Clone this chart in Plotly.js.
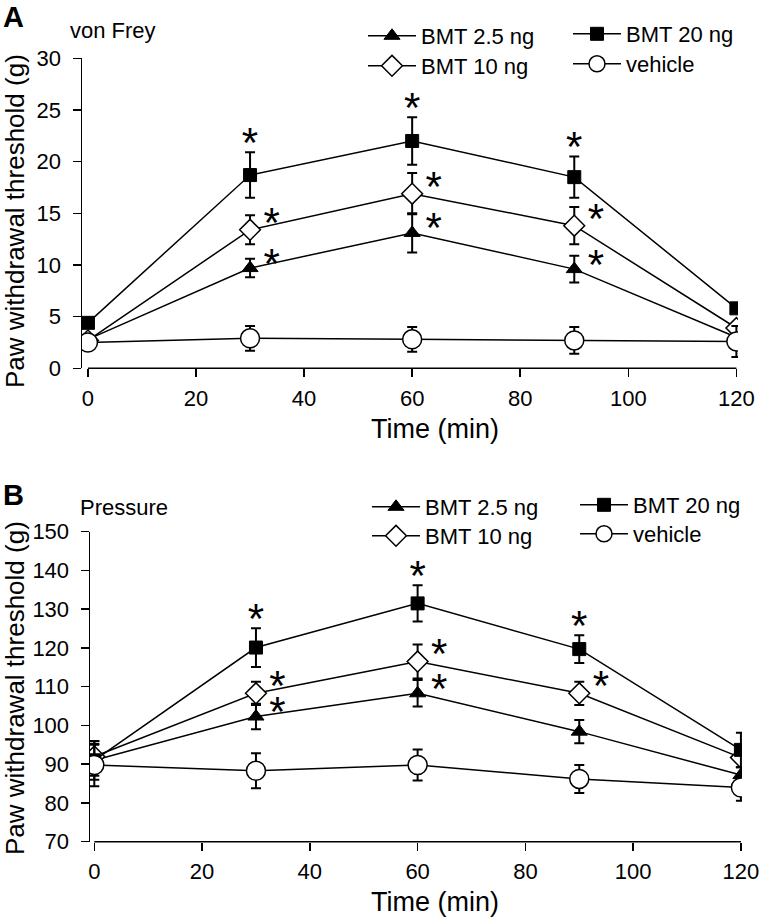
<!DOCTYPE html>
<html>
<head>
<meta charset="utf-8">
<script src="https://cdn.plot.ly/plotly-3.0.1.min.js"></script>
<style>
  body { margin: 0; background: #fff; }
  #chart { width: 760px; height: 920px; }
</style>
</head>
<body>
<div id="chart"></div>
<script>
// time points (min)
const times = [0, 30, 60, 90, 120];

// A: von Frey, paw withdrawal threshold (g), mean and SEM
const vfLow = [2.8, 9.7, 13.1, 9.6, 3.0];
const vfLowErr = [0.3, 0.9, 1.9, 1.3, 0.4];
const vfMid = [2.7, 13.4, 16.9, 13.8, 3.9];
const vfMidErr = [0.3, 1.4, 2.0, 1.8, 0.5];
const vfHigh = [4.4, 18.7, 22.0, 18.5, 5.8];
const vfHighErr = [0.4, 2.2, 2.3, 2.0, 0.4];
const vfVeh = [2.5, 2.9, 2.8, 2.7, 2.6];
const vfVehErr = [0.4, 1.2, 1.2, 1.3, 1.5];

// B: pressure, paw withdrawal threshold (g)
const prLow = [91.0, 102.3, 108.3, 98.4, 87.2];
const prLowErr = [4.0, 3.3, 3.4, 3.0, 2.0];
const prMid = [92.0, 108.3, 116.5, 108.3, 91.7];
const prMidErr = [4.0, 3.0, 4.4, 3.0, 2.5];
const prHigh = [91.0, 120.1, 131.5, 119.7, 93.7];
const prHighErr = [5.0, 5.0, 4.7, 3.6, 4.4];
const prVeh = [89.8, 88.3, 89.8, 86.2, 84.0];
const prVehErr = [5.5, 4.5, 4.0, 3.6, 3.4];

// significance flags (1 = asterisk)
const vfLowSig = [0, 1, 1, 1, 0];
const vfMidSig = [0, 1, 1, 1, 0];
const vfHighSig = [0, 1, 1, 1, 0];
const prLowSig = [0, 1, 1, 0, 0];
const prMidSig = [0, 1, 1, 1, 0];
const prHighSig = [0, 1, 1, 1, 0];

const seriesNames = ['BMT 2.5 ng', 'BMT 10 ng', 'BMT 20 ng', 'vehicle'];
const xTicks = [0, 20, 40, 60, 80, 100, 120];

const FONT = 'Arial, "Liberation Sans", sans-serif';
const W = 760, H = 920;
const px = v => v / W;
const py = v => 1 - v / H;

const markers = [
  {symbol: 'triangle-up', size: 14, color: '#000', line: {color: '#000', width: 1}},
  {symbol: 'diamond', size: 16, color: '#fff', line: {color: '#000', width: 1.5}},
  {symbol: 'square', size: 13, color: '#000', line: {color: '#000', width: 1}},
  {symbol: 'circle', size: 19, color: '#fff', line: {color: '#000', width: 1.5}}
];

function series(xa, ya, ys, errs, legs) {
  return ys.map((y, i) => ({
    x: times, y: y, name: seriesNames[i],
    xaxis: xa, yaxis: ya,
    type: 'scatter', mode: 'lines+markers',
    line: {color: '#000', width: 1.5},
    marker: markers[i],
    error_y: {type: 'data', array: errs[i], visible: true, color: '#000', thickness: 2, width: 5},
    legend: legs[i],
    showlegend: true
  }));
}

// asterisks placed above the error bar or to the right of the marker
function stars(xa, ya, y, err, sig, above, upOff, rightOff) {
  const sx = [], sy = [];
  sig.forEach((s, i) => {
    if (!s) return;
    if (above) { sx.push(times[i]); sy.push(y[i] + err[i] + upOff); }
    else { sx.push(times[i] + 4); sy.push(y[i] + rightOff); }
  });
  return {
    x: sx, y: sy, xaxis: xa, yaxis: ya, type: 'scatter', mode: 'text',
    text: sx.map(() => '*'), textposition: 'middle center',
    textfont: {family: FONT, size: 42, color: '#000'},
    showlegend: false, hoverinfo: 'skip'
  };
}

const data = [
  ...series('x', 'y', [vfLow, vfMid, vfHigh, vfVeh], [vfLowErr, vfMidErr, vfHighErr, vfVehErr],
    ['legend', 'legend2', 'legend3', 'legend4']),
  ...series('x2', 'y2', [prLow, prMid, prHigh, prVeh], [prLowErr, prMidErr, prHighErr, prVehErr],
    ['legend5', 'legend6', 'legend7', 'legend8']),
  stars('x', 'y', vfHigh, vfHighErr, vfHighSig, true, 0.55, 0),
  stars('x', 'y', vfMid, vfMidErr, vfMidSig, false, 0, 0.3),
  stars('x', 'y', vfLow, vfLowErr, vfLowSig, false, 0, 0.1),
  stars('x2', 'y2', prHigh, prHighErr, prHighSig, true, 1.4, 0),
  stars('x2', 'y2', prMid, prMidErr, prMidSig, false, 0, 1.0),
  stars('x2', 'y2', prLow, prLowErr, prLowSig, false, 0, 0.2)
];

const xAxisBase = {
  tickvals: xTicks, ticks: 'outside', ticklen: 8, tickwidth: 1.5, tickcolor: '#000',
  showline: false, showgrid: false, zeroline: false,
  tickfont: {family: FONT, size: 22, color: '#000'}, ticklabelstandoff: 2
};
const yAxisBase = {
  ticks: 'outside', ticklen: 8, tickwidth: 1.5, tickcolor: '#000',
  showline: true, linecolor: '#000', linewidth: 1.5, showgrid: false, zeroline: false,
  tickfont: {family: FONT, size: 22, color: '#000'}, ticklabelstandoff: 7
};

// one legend per entry so each row sits where the reference has it
function legendAt(x, yMid) {
  return {
    x: px(x), y: py(yMid), xanchor: 'left', yanchor: 'middle',
    bgcolor: 'rgba(0,0,0,0)', borderwidth: 0, itemwidth: 48,
    font: {family: FONT, size: 22, color: '#000'}
  };
}

const txt = (text, x, y, size, extra) => Object.assign({
  text: text, xref: 'paper', yref: 'paper', x: px(x), y: py(y),
  xanchor: 'center', yanchor: 'middle', showarrow: false,
  font: {family: FONT, size: size, color: '#000'}
}, extra || {});

const layout = {
  width: W, height: H,
  margin: {l: 0, r: 0, t: 0, b: 0},
  paper_bgcolor: '#fff', plot_bgcolor: '#fff',
  showlegend: true,
  xaxis: Object.assign({}, xAxisBase, {domain: [px(82), px(738)], range: [-1.1, 120.3], anchor: 'y'}),
  yaxis: Object.assign({}, yAxisBase, {domain: [py(368.3), py(58.3)], range: [0, 30], dtick: 5, anchor: 'x'}),
  xaxis2: Object.assign({}, xAxisBase, {domain: [px(90), px(742)], range: [-0.8, 120.2], anchor: 'y2'}),
  yaxis2: Object.assign({}, yAxisBase, {domain: [py(841.7), py(531.7)], range: [70, 150], dtick: 10, anchor: 'x2'}),
  legend: legendAt(363, 36),
  legend2: legendAt(363, 66),
  legend3: legendAt(568, 34),
  legend4: legendAt(568, 64),
  legend5: legendAt(367, 507),
  legend6: legendAt(367, 536),
  legend7: legendAt(575, 505),
  legend8: legendAt(575, 534),
  shapes: [
    {type: 'line', xref: 'x', yref: 'y domain', x0: 0, x1: 120, y0: 0, y1: 0, line: {color: '#000', width: 1.5}},
    {type: 'line', xref: 'x2', yref: 'y2 domain', x0: 0, x1: 120, y0: 0, y1: 0, line: {color: '#000', width: 1.5}}
  ],
  annotations: [
    txt('<b>A</b>', 14, 17, 29),
    txt('<b>B</b>', 14, 495, 29),
    txt('von Frey', 68, 30, 22, {xanchor: 'left'}),
    txt('Pressure', 78, 507, 22, {xanchor: 'left'}),
    txt('Time (min)', 435, 429, 27),
    txt('Time (min)', 435, 902, 27),
    txt('Paw withdrawal threshold (g)', 15, 221, 26, {textangle: -90}),
    txt('Paw withdrawal threshold (g)', 15, 688, 26, {textangle: -90})
  ]
};

Plotly.newPlot('chart', data, layout, {displayModeBar: false, staticPlot: true});
</script>
</body>
</html>
